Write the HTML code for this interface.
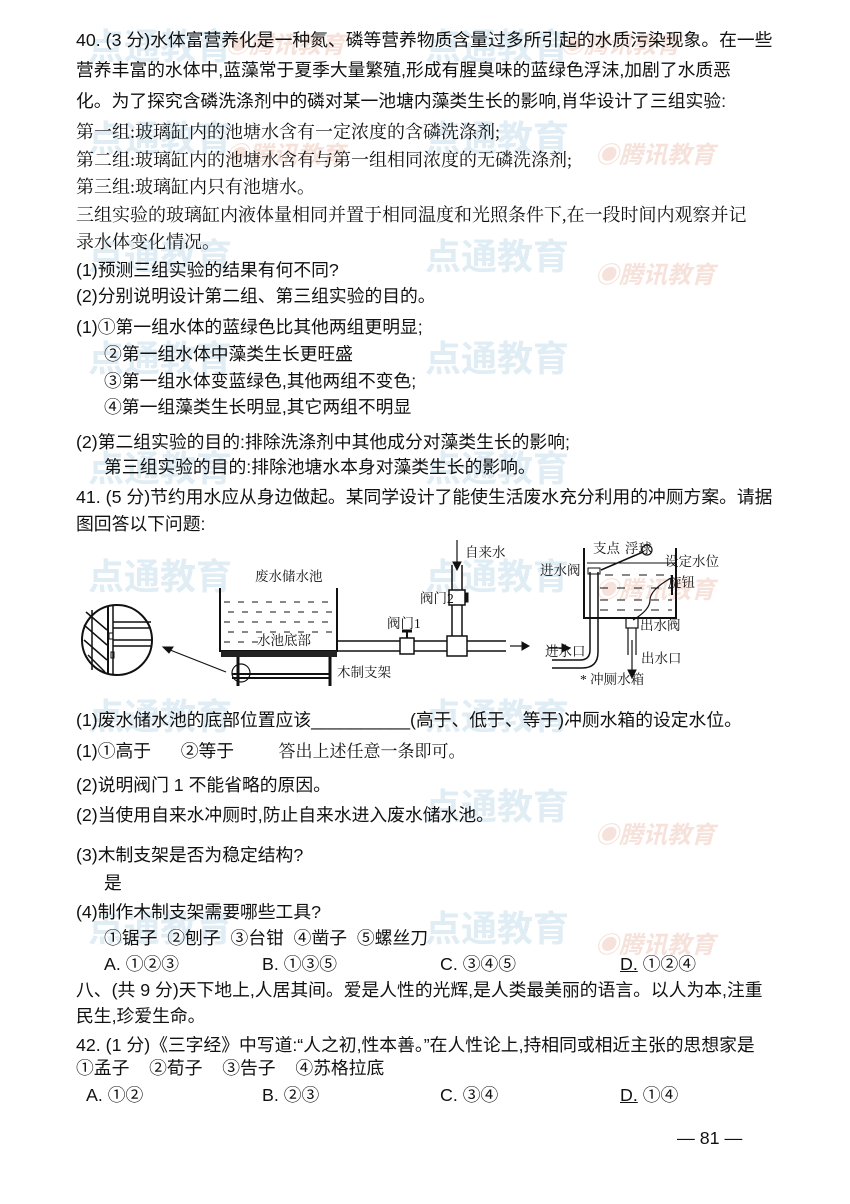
<!DOCTYPE html>
<html><head><meta charset="utf-8">
<style>
body{margin:0;background:#fff;}
#p{position:relative;width:850px;height:1204px;overflow:hidden;background:#fff;font-family:"Liberation Serif","Noto Serif CJK SC","Noto Sans CJK SC",serif;color:#111;}
.l{position:absolute;font-size:18px;white-space:nowrap;line-height:22px;}
.k{font-family:"Liberation Sans","Noto Sans CJK SC",sans-serif;font-size:17.8px;}
.w{position:absolute;font-family:"Liberation Sans","Noto Sans CJK SC",sans-serif;font-size:36px;font-weight:bold;color:#e0edf5;white-space:nowrap;}
.w2{position:absolute;font-family:"Liberation Sans","Noto Sans CJK SC",sans-serif;font-size:24px;font-style:italic;font-weight:bold;color:#f6e2da;white-space:nowrap;}
</style></head><body><div id="p">
<div class="w" style="left:88px;top:18px">点通教育</div><div class="w2" style="left:225px;top:25px">◉腾讯教育</div>
<div class="w" style="left:425px;top:18px">点通教育</div><div class="w2" style="left:560px;top:25px">◉腾讯教育</div>
<div class="w" style="left:88px;top:110px">点通教育</div><div class="w2" style="left:225px;top:135px">◉腾讯教育</div>
<div class="w" style="left:425px;top:110px">点通教育</div><div class="w2" style="left:595px;top:135px">◉腾讯教育</div>
<div class="w" style="left:88px;top:228px">点通教育</div><div class="w" style="left:425px;top:228px">点通教育</div><div class="w2" style="left:595px;top:255px">◉腾讯教育</div>
<div class="w" style="left:88px;top:330px">点通教育</div><div class="w" style="left:425px;top:330px">点通教育</div>
<div class="w" style="left:88px;top:440px">点通教育</div><div class="w" style="left:425px;top:440px">点通教育</div>
<div class="w" style="left:88px;top:548px">点通教育</div><div class="w" style="left:425px;top:548px">点通教育</div><div class="w2" style="left:595px;top:570px">◉腾讯教育</div>
<div class="w" style="left:88px;top:688px">点通教育</div><div class="w" style="left:425px;top:688px">点通教育</div>
<div class="w" style="left:425px;top:778px">点通教育</div><div class="w2" style="left:595px;top:815px">◉腾讯教育</div>
<div class="w" style="left:88px;top:900px">点通教育</div><div class="w" style="left:425px;top:900px">点通教育</div><div class="w2" style="left:595px;top:925px">◉腾讯教育</div>

<div class="l k" style="left:76px;top:29px">40. (3 分)水体富营养化是一种氮、磷等营养物质含量过多所引起的水质污染现象。在一些</div>
<div class="l k" style="left:76px;top:59px">营养丰富的水体中,蓝藻常于夏季大量繁殖,形成有腥臭味的蓝绿色浮沫,加剧了水质恶</div>
<div class="l k" style="left:76px;top:90px">化。为了探究含磷洗涤剂中的磷对某一池塘内藻类生长的影响,肖华设计了三组实验:</div>
<div class="l" style="left:76px;top:121px">第一组:玻璃缸内的池塘水含有一定浓度的含磷洗涤剂;</div>
<div class="l" style="left:76px;top:149px">第二组:玻璃缸内的池塘水含有与第一组相同浓度的无磷洗涤剂;</div>
<div class="l" style="left:76px;top:176px">第三组:玻璃缸内只有池塘水。</div>
<div class="l" style="left:76px;top:204px">三组实验的玻璃缸内液体量相同并置于相同温度和光照条件下,在一段时间内观察并记</div>
<div class="l" style="left:76px;top:231px">录水体变化情况。</div>
<div class="l k" style="left:76px;top:259px">(1)预测三组实验的结果有何不同?</div>
<div class="l k" style="left:76px;top:285px">(2)分别说明设计第二组、第三组实验的目的。</div>
<div class="l k" style="left:76px;top:316px">(1)①第一组水体的蓝绿色比其他两组更明显;</div>
<div class="l k" style="left:104px;top:343px">②第一组水体中藻类生长更旺盛</div>
<div class="l k" style="left:104px;top:370px">③第一组水体变蓝绿色,其他两组不变色;</div>
<div class="l k" style="left:104px;top:396px">④第一组藻类生长明显,其它两组不明显</div>
<div class="l k" style="left:76px;top:431px">(2)第二组实验的目的:排除洗涤剂中其他成分对藻类生长的影响;</div>
<div class="l k" style="left:104px;top:456px">第三组实验的目的:排除池塘水本身对藻类生长的影响。</div>
<div class="l k" style="left:76px;top:486px">41. (5 分)节约用水应从身边做起。某同学设计了能使生活废水充分利用的冲厕方案。请据</div>
<div class="l k" style="left:76px;top:513px">图回答以下问题:</div>

<svg style="position:absolute;left:0;top:0" width="850" height="1204" font-family="Liberation Serif,Noto Serif CJK SC,serif" fill="none" stroke="#111">
<circle cx="117" cy="640" r="35" stroke-width="2"/>
<line x1="92" y1="610" x2="92" y2="670" stroke-width="1.5"/>
<line x1="108" y1="606" x2="108" y2="674" stroke-width="2"/>
<line x1="113" y1="606" x2="113" y2="674" stroke-width="1.5"/>
<line x1="113" y1="622" x2="151" y2="622" stroke-width="1.5"/><line x1="113" y1="628" x2="151" y2="628" stroke-width="1.5"/>
<line x1="113" y1="640" x2="151" y2="640" stroke-width="1.5"/><line x1="113" y1="646" x2="151" y2="646" stroke-width="1.5"/>
<path d="M84 625 L107 645 M84 640 L107 660 M88 655 L105 672 M86 612 L107 630" stroke-width="1.5"/>
<rect x="109" y="633" width="4" height="6" stroke-width="1"/><rect x="111" y="652" width="3" height="6" stroke-width="1"/>
<line x1="226" y1="672" x2="165" y2="648" stroke-width="1.2"/><path d="M163 647 l10 0 l-4 6z" fill="#111"/>
<path d="M220 588 V651 H337 V588" stroke-width="2"/>
<rect x="221" y="651" width="116" height="6" fill="#222" stroke="none"/>
<line x1="238" y1="657" x2="238" y2="686" stroke-width="3"/><line x1="330" y1="657" x2="330" y2="686" stroke-width="3"/>
<line x1="232" y1="674" x2="330" y2="674" stroke-width="2"/><line x1="232" y1="678" x2="330" y2="678" stroke-width="2"/>
<circle cx="241" cy="673" r="9" stroke-width="1.2"/>
<g stroke-width="1" stroke-dasharray="6 8"><line x1="224" y1="602" x2="334" y2="602"/><line x1="228" y1="612" x2="334" y2="612"/><line x1="224" y1="622" x2="334" y2="622"/><line x1="228" y1="632" x2="334" y2="632"/><line x1="224" y1="642" x2="260" y2="642"/></g>
<path d="M337 641 H400 M337 651 H400" stroke-width="1.5"/>
<rect x="400" y="638" width="14" height="16" stroke-width="1.5"/>
<path d="M414 641 H447 M414 651 H447" stroke-width="1.5"/>
<line x1="407" y1="631" x2="407" y2="638" stroke-width="2"/><line x1="402" y1="631" x2="412" y2="631" stroke-width="3"/>
<rect x="447" y="636" width="20" height="20" stroke-width="1.5"/>
<path d="M467 641 H506 M467 651 H506" stroke-width="1.5"/>
<path d="M452 636 V605 M462 636 V605" stroke-width="1.5"/>
<rect x="449" y="590" width="16" height="15" stroke-width="1.5"/>
<path d="M452 590 V565 M462 590 V565" stroke-width="1.5"/>
<rect x="465" y="593" width="3" height="9" fill="#111"/>
<line x1="457" y1="540" x2="457" y2="568" stroke-width="1.2"/><path d="M453 562 l4 8 l4 -8z" fill="#111"/>
<line x1="510" y1="646" x2="526" y2="646" stroke-width="1.2"/><path d="M522 642 l7 4 l-7 4z" fill="#111"/>
<path d="M584 548 V618 H676 V548" stroke-width="2"/>
<line x1="587" y1="563" x2="676" y2="563" stroke-width="1"/>
<g stroke-width="1" stroke-dasharray="8 9"><line x1="605" y1="575" x2="672" y2="575"/><line x1="600" y1="588" x2="672" y2="588"/><line x1="600" y1="600" x2="672" y2="600"/><line x1="600" y1="610" x2="672" y2="610"/></g>
<path d="M590 572 V650 Q590 660 580 660 H552 M598 572 V652 Q598 668 582 668 H552" stroke-width="1.5"/>
<rect x="588" y="568" width="12" height="6" stroke-width="1"/>
<line x1="601" y1="570" x2="643" y2="552" stroke-width="1.5"/>
<circle cx="647" cy="550" r="5" stroke-width="1.2"/>
<path d="M671 578 Q650 590 650 600 Q650 610 633 620" stroke-width="1.2"/>
<line x1="672" y1="575" x2="672" y2="595" stroke-width="2"/>
<rect x="626" y="618" width="12" height="10" stroke-width="1.2"/>
<path d="M628 628 V655 M636 628 V655" stroke-width="1.2"/>
<line x1="632" y1="640" x2="632" y2="676" stroke-width="1.2"/><path d="M628 670 l4 8 l4 -8z" fill="#111"/>
<line x1="548" y1="648" x2="566" y2="648" stroke-width="1.2"/><path d="M562 644 l8 4 l-8 4z" fill="#111"/>
<g fill="#111" stroke="none" font-size="13.5">
<text x="255" y="581">废水储水池</text>
<text x="257" y="645">水池底部</text>
<text x="337" y="677">木制支架</text>
<text x="387" y="628">阀门1</text>
<text x="420" y="603">阀门2</text>
<text x="465" y="557">自来水</text>
<text x="593" y="553">支点</text>
<text x="625" y="553">浮球</text>
<text x="665" y="566">设定水位</text>
<text x="540" y="575">进水阀</text>
<text x="668" y="587">旋钮</text>
<text x="640" y="630">出水阀</text>
<text x="545" y="656">进水口</text>
<text x="641" y="663">出水口</text>
<text x="580" y="684">* 冲厕水箱</text>
</g>
</svg>

<div class="l k" style="left:76px;top:709px">(1)废水储水池的底部位置应该__________(高于、低于、等于)冲厕水箱的设定水位。</div>
<div class="l k" style="left:76px;top:739px">(1)①高于&nbsp;&nbsp;&nbsp;&nbsp;&nbsp;&nbsp;②等于&nbsp;&nbsp;&nbsp;&nbsp;&nbsp;&nbsp;&nbsp;&nbsp;&nbsp;<span style="font-family:'Noto Serif CJK SC',serif;font-size:17px">答出上述任意一条即可。</span></div>
<div class="l k" style="left:76px;top:774px">(2)说明阀门 1 不能省略的原因。</div>
<div class="l k" style="left:76px;top:804px">(2)当使用自来水冲厕时,防止自来水进入废水储水池。</div>
<div class="l k" style="left:76px;top:844px">(3)木制支架是否为稳定结构?</div>
<div class="l k" style="left:104px;top:872px">是</div>
<div class="l k" style="left:76px;top:901px">(4)制作木制支架需要哪些工具?</div>
<div class="l k" style="left:104px;top:927px">①锯子&nbsp;&nbsp;②刨子&nbsp;&nbsp;③台钳&nbsp;&nbsp;④凿子&nbsp;&nbsp;⑤螺丝刀</div>
<div class="l k" style="left:104px;top:953px">A. ①②③</div>
<div class="l k" style="left:262px;top:953px">B. ①③⑤</div>
<div class="l k" style="left:440px;top:953px">C. ③④⑤</div>
<div class="l k" style="left:620px;top:953px"><u>D.</u> ①②④</div>
<div class="l k" style="left:76px;top:979px">八、(共 9 分)天下地上,人居其间。爱是人性的光辉,是人类最美丽的语言。以人为本,注重</div>
<div class="l k" style="left:76px;top:1005px">民生,珍爱生命。</div>
<div class="l k" style="left:76px;top:1034px">42. (1 分)《三字经》中写道:“人之初,性本善。”在人性论上,持相同或相近主张的思想家是</div>
<div class="l k" style="left:76px;top:1057px">①孟子&nbsp;&nbsp;&nbsp;&nbsp;②荀子&nbsp;&nbsp;&nbsp;&nbsp;③告子&nbsp;&nbsp;&nbsp;&nbsp;④苏格拉底</div>
<div class="l k" style="left:86px;top:1084px">A. ①②</div>
<div class="l k" style="left:262px;top:1084px">B. ②③</div>
<div class="l k" style="left:440px;top:1084px">C. ③④</div>
<div class="l k" style="left:620px;top:1084px"><u>D.</u> ①④</div>
<div class="l k" style="left:677px;top:1127px">— 81 —</div>
</div></body></html>
